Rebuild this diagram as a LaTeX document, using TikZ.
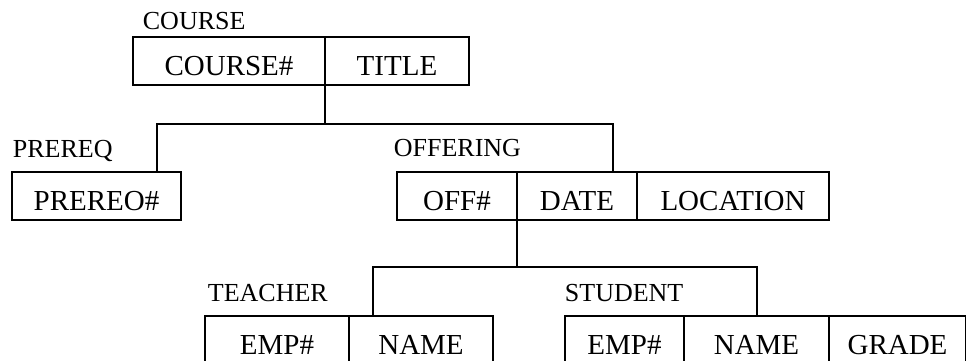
\documentclass[tikz,border=0pt]{standalone}
\usepackage{fontspec}
\setmainfont{Liberation Serif}
\usepackage{tikz}
\usetikzlibrary{positioning}

\newcommand{\cellfont}{\fontsize{29}{32}\selectfont}
\newcommand{\tagfont}{\fontsize{26}{29}\selectfont}

\tikzset{
  cell/.style={draw, rectangle, minimum height=48pt, inner sep=0pt, outer sep=0pt,
    text height=28pt, text depth=0pt, font=\cellfont},
  tag/.style={inner sep=0pt, anchor=base west, font=\tagfont}
}

\begin{document}
\begin{tikzpicture}[x=1pt, y=-1pt, line width=1.8pt]
      \clip (0,0) rectangle (966,360);

      % COURSE
      \node[tag] (tcourse) at (142,29) {COURSE};
      \node[cell, minimum width=192pt, anchor=north west] (cnum) at (133,37) {COURSE\#};
      \node[cell, minimum width=144pt, right=0pt of cnum] (ctitle) {TITLE};

      % PREREQ
      \node[tag] (tprereq) at (12,157) {PREREQ};
      \node[cell, minimum width=169pt, anchor=north west] (pnum) at (12,172) {PREREO\#};

      % OFFERING
      \node[tag] (toffer) at (393,156) {OFFERING};
      \node[cell, minimum width=120pt, anchor=north west] (onum) at (397,172) {OFF\#};
      \node[cell, minimum width=120pt, right=0pt of onum] (odate) {DATE};
      \node[cell, minimum width=192pt, right=0pt of odate] (oloc) {LOCATION};

      % TEACHER
      \node[tag] (tteach) at (207,301) {TEACHER};
      \node[cell, minimum width=144pt, anchor=north west] (tnum) at (205,316) {EMP\#};
      \node[cell, minimum width=144pt, right=0pt of tnum] (tname) {NAME};

      % STUDENT
      \node[tag] (tstud) at (564,301) {STUDENT};
      \node[cell, minimum width=119pt, anchor=north west] (snum) at (565,316) {EMP\#};
      \node[cell, minimum width=145pt, right=0pt of snum] (sname) {NAME};
      \node[cell, minimum width=137pt, right=0pt of sname] (sgrade) {GRADE};

      % links
      \coordinate (cbarL) at (157,124);
      \coordinate (cbarR) at (613,124);
      \draw (cnum.south east) -- (cnum.south east |- cbarL);
      \draw (cbarL |- pnum.north) -- (cbarL) -- (cbarR) -- (cbarR |- odate.north);

      \coordinate (obarL) at (373,267);
      \coordinate (obarR) at (757,267);
      \draw (onum.south east) -- (onum.south east |- obarL);
      \draw (obarL |- tname.north) -- (obarL) -- (obarR) -- (obarR |- sname.north);
    \end{tikzpicture}
\end{document}
